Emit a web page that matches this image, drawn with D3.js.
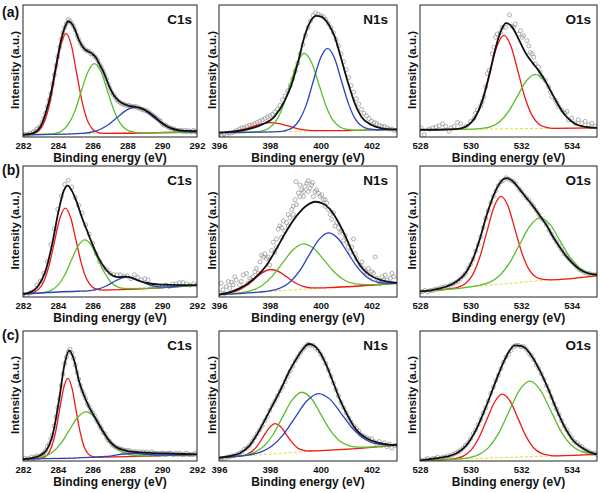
<!DOCTYPE html>
<html><head><meta charset="utf-8">
<script src="https://cdn.jsdelivr.net/npm/d3@7"></script>
<style>
body{margin:0;background:#fff}
svg{display:block}
text{font-family:"Liberation Sans",Arial,sans-serif;font-weight:bold;fill:#111}
</style></head>
<body><svg id="chart" width="600" height="493"></svg>
<script>
// ---------- axis ticks / domains ----------
const domC = [282, 292], domN = [396, 403], domO = [528, 535];
const ticksC = [282, 284, 286, 288, 290, 292];
const ticksN = [396, 398, 400, 402];
const ticksO = [528, 530, 532, 534];
const panelLetters = ["(a)", "(b)", "(c)"];
const coreTitles = ["C1s", "N1s", "O1s"];

// ---------- (a) C1s ----------
const aC1sPts = [1,2,1,2,3,2,4,4,6,7, 8,11,14,18,23,28,33,40,47,54, 61,68,74,79,83,86,89,88,86,84,
 81,77,74,71,69,67,66,65,65,63, 63,61,60,58,55,53,50,47,44,40, 37,34,32,30,28,27,26,25,25,24,
 24,24,23,23,23,23,22,22,21,21, 20,20,19,18,17,16,15,14,13,12, 10,9,9,8,7,7,6,6,5,5, 5,5,4,5,4,5,4,4,5,4, 4];
const aC1sEnv = [[282,1.8],[282.5,2.6],[283,7.7],[283.3,18],[283.6,33],[283.9,54],[284.2,74],[284.45,84.6],[284.6,87.7],[284.8,86],[285,81],[285.2,74],[285.4,69],[285.6,66],[285.8,64.6],[286,62.8],[286.2,60],[286.4,55],[286.6,50],[286.8,43.6],[287,37],[287.2,32],[287.5,27.4],[287.8,25],[288.1,23.6],[288.4,23],[288.7,22],[289,20.5],[289.3,18],[289.6,15],[289.9,11.5],[290.2,8.7],[290.5,6.7],[291,5],[291.5,4.6],[292,4.4]];
const aC1sRed = [[282,1.8],[282.34,1.9],[282.64,2.8],[282.95,5.3],[283.25,12.3],[283.56,26.8],[283.86,48.3],[284.17,69.2],[284.47,78.3],[284.78,69.4],[285.08,48.5],[285.39,27.2],[285.69,12.8],[286.0,5.9],[286.3,3.5],[286.6,2.8],[292,3.8]];
const aC1sGreen = [[282,1.8],[283.48,2.1],[283.85,2.8],[284.23,4.6],[284.6,9.5],[284.98,19.6],[285.35,34.7],[285.73,49.3],[286.1,55.6],[286.48,49.4],[286.85,35],[287.23,20.1],[287.6,10.1],[287.98,5.3],[288.35,3.7],[288.73,3.2],[292,3.8]];
const aC1sBlue = [[282,1.8],[284.78,2.4],[285.3,2.7],[285.83,3.4],[286.35,5.3],[286.88,9.1],[287.4,14.7],[287.93,20.2],[288.45,22.6],[288.98,20.4],[289.5,15.1],[290.03,9.7],[290.55,6.1],[291.08,4.5],[291.6,3.9],[292,3.9]];
const aC1sBase = [[282,1.8],[292,3.8]];

// ---------- (a) N1s ----------
const aN1sPts = [2,1,2,1,3,3,4,5,6,7, 7,8,9,9,10,11,12,13,14,15, 16,17,19,21,24,28,31,35,39,44,
 50,56,63,70,77,83,88,92,94,93, 92,91,89,86,83,79,74,69,63,57, 51,45,39,34,29,25,21,18,16,14, 12,11,10,9,8,8,7,6,6,5, 5];
const aN1sEnv = [[396,3.3],[396.5,4],[397,5.3],[397.65,9.1],[398.18,15.4],[398.57,27],[398.84,39],[399.1,56],[399.36,76],[399.63,88.6],[399.83,91.7],[400.02,91.2],[400.29,86],[400.55,76],[400.82,58.3],[401.08,40.7],[401.34,25.5],[401.6,15.4],[402,9.1],[402.4,6.6],[403,5.6]];
const aN1sRed = [[396,3.4],[396.32,3.7],[396.66,4.5],[397.0,5.9],[397.34,8.0],[397.68,10.0],[398.02,10.9],[398.36,10.2],[398.7,8.4],[399.04,6.6],[399.38,5.4],[399.72,4.9],[400.06,4.8],[400.4,4.8],[403,5.75]];
const aN1sGreen = [[396,3.3],[397.4,3.8],[397.68,4.5],[397.96,6.6],[398.24,12.0],[398.52,23.3],[398.8,40.0],[399.08,56.3],[399.36,63.4],[399.64,56.5],[399.92,40.4],[400.2,23.9],[400.48,12.8],[400.76,7.6],[401.04,5.7],[401.32,5.1],[403,5.75]];
const aN1sBlue = [[396,3.3],[398.34,4.1],[398.61,4.9],[398.89,7.0],[399.16,12.8],[399.44,24.7],[399.71,42.4],[399.99,59.6],[400.26,67.1],[400.54,59.8],[400.81,42.8],[401.09,25.3],[401.36,13.6],[401.64,8.0],[401.91,6.1],[402.19,5.5],[403,5.75]];
const aN1sBase = [[396,3.3],[403,5.75]];

// ---------- (a) O1s ----------
const aO1sPts = [[528.04,6.8],[528.17,1.8],[528.37,6],[528.5,6.8],[528.63,7.5],[528.76,8.5],[528.89,10],[529.02,8],[529.15,4.3],[529.22,6.8],[529.35,8],[529.48,11],[529.61,10],[529.81,8],[530.0,11.8],[530.14,14.3],[530.2,18],[530.27,20.5],[530.4,23.5],[530.46,26.8],[530.53,30.5],[530.6,38],[530.66,48],[530.73,50.5],[530.86,63],[530.92,68],[530.99,75.5],[531.05,78],[531.18,79],[531.25,83],[531.38,83],[531.54,92.5],[531.64,84],[531.71,83],[531.77,85.5],[531.9,78],[531.97,80.5],[532.04,75.5],[532.1,76.8],[532.23,73],[532.3,69],[532.36,64],[532.43,63],[532.5,60.5],[532.56,55.5],[532.69,53],[532.76,49],[532.82,45.5],[532.95,43],[533.09,38],[533.15,34],[533.22,30.5],[533.35,28],[533.42,25.5],[533.48,23],[533.61,20.5],[533.74,18],[533.81,19.3],[533.87,13],[534.0,14.3],[534.13,10.5],[534.26,13],[534.4,10.5],[534.53,11.8],[534.66,9.3],[534.79,10.5],[534.92,8]];
const aO1sEnv = [[528,5.5],[529,5.7],[529.5,6.1],[529.8,7.7],[530.2,15.5],[530.46,27],[530.73,46],[530.99,67.5],[531.25,82.5],[531.4,86.2],[531.64,83.4],[531.9,74.1],[532.17,63.8],[532.43,56.7],[532.69,50.3],[532.95,42.7],[533.22,33],[533.48,23.9],[533.74,16.5],[534.13,10.1],[534.53,7.7],[535,6.9]];
const aO1sRed = [[528,5.5],[529.36,5.8],[529.64,6.6],[529.92,9.0],[530.2,15.5],[530.48,29.0],[530.76,49.0],[531.04,68.5],[531.32,77.0],[531.6,68.6],[531.88,49.3],[532.16,29.3],[532.44,16.0],[532.72,9.5],[533.0,7.3],[533.28,6.6],[535,6.9]];
const aO1sGreen = [[528,5.5],[530.11,5.9],[530.46,6.5],[530.81,7.9],[531.16,11.7],[531.51,19.6],[531.86,31.2],[532.21,42.6],[532.56,47.5],[532.91,42.8],[533.26,31.5],[533.61,20.0],[533.96,12.2],[534.31,8.6],[534.66,7.3],[535,6.95]];
const aO1sBase = [[528,5.5],[535,6.9]];

// ---------- (b) C1s ----------
const bC1sPts = [2,1,3,4,9, 12,18,27,40,52, 67,77,86,89,84, 76,70,64,55,48, 41,33,27,23,21, 18,17,17,17,16,
 16,14,17,15,13, 14,13,9,9,8, 8,9,8,10,10, 11,11,10,9,10, 9];
const bC1sEnv = [[282,2.3],[282.53,4.3],[282.9,9],[283.3,20],[283.67,40],[284.05,66],[284.34,81],[284.57,85],[284.81,81],[285.1,72],[285.38,61],[285.67,51],[285.95,41.5],[286.33,30],[286.71,22],[287.1,16.8],[287.48,15.2],[287.86,15.6],[288.24,14.6],[288.6,12.6],[289.2,10.5],[289.75,9.6],[290.5,9.3],[291.2,9.1],[292,9.1]];
const bC1sRed = [[282,2.3],[282.26,2.5],[282.57,3.4],[282.88,5.7],[283.19,11.7],[283.5,24.1],[283.81,42.3],[284.12,60.1],[284.43,67.9],[284.74,60.5],[285.05,43.1],[285.36,25.3],[285.67,13.3],[285.98,7.7],[286.29,5.8],[286.6,5.3],[292,8.8]];
const bC1sGreen = [[282,2.3],[282.85,2.9],[283.23,3.5],[283.62,5.1],[284.0,8.9],[284.39,16.6],[284.77,27.8],[285.16,38.8],[285.54,43.6],[285.93,39.3],[286.31,28.8],[286.7,18.1],[287.08,10.9],[287.47,7.6],[287.85,6.5],[288.24,6.4],[292,8.8]];
const bC1sBlue = [[282,2.3],[285.15,4.4],[285.55,4.5],[285.95,5.1],[286.35,6.2],[286.75,8.2],[287.15,11.1],[287.55,13.9],[287.95,15.3],[288.35,14.4],[288.75,12.1],[289.15,9.8],[289.55,8.3],[289.95,7.7],[290.35,7.6],[290.75,8.0],[292,8.8]];
const bC1sBase = [[282,2.3],[292,8.8]];

// ---------- (b) N1s ----------
const bN1sPts = [[396.02,3],[396.09,10.5],[396.16,5.5],[396.22,2.5],[396.29,8],[396.36,11.8],[396.42,6.8],[396.49,11.3],[396.55,9.3],[396.62,15.5],[396.68,13],[396.82,9.3],[396.88,11.8],[396.95,16.8],[397.08,18],[397.14,10.5],[397.21,14.3],[397.28,13],[397.34,15.5],[397.41,19.3],[397.47,21.8],[397.54,18],[397.61,26.8],[397.67,31.8],[397.74,30.5],[397.8,33],[397.87,29.3],[397.93,30.5],[398.0,24.3],[398.07,35.5],[398.13,41.8],[398.2,34.3],[398.26,44.3],[398.26,38],[398.33,51.8],[398.39,54.3],[398.46,53],[398.46,45.5],[398.53,58],[398.59,50.5],[398.66,56.8],[398.72,63],[398.72,54.3],[398.79,60.5],[398.86,66.8],[398.92,69.3],[398.92,63],[398.99,74.3],[399.03,88],[399.05,70.5],[399.12,79.3],[399.18,76.8],[399.18,85.5],[399.25,81.8],[399.32,80.5],[399.32,76.8],[399.38,84.3],[399.45,86.8],[399.51,80.5],[399.51,88.8],[399.58,83],[399.64,85.5],[399.68,87.3],[399.71,76.8],[399.78,80.5],[399.84,81.8],[399.91,79.3],[399.97,76.8],[400.04,78],[400.1,74.3],[400.17,69.3],[400.17,74.3],[400.24,71.8],[400.3,66.8],[400.37,63],[400.43,59.3],[400.5,64.3],[400.57,54.3],[400.63,56.8],[400.7,53],[400.76,49.3],[400.83,50.5],[400.89,43],[400.96,46.8],[401.03,41.8],[401.09,38],[401.16,34.3],[401.22,38],[401.29,44.3],[401.36,33],[401.42,29.3],[401.55,24.3],[401.62,26.8],[401.68,21.8],[401.75,19.3],[401.82,18],[401.88,21.8],[401.95,15.5],[402.01,19.3],[402.08,18],[402.14,30.5],[402.21,14.3],[402.28,11.8],[402.34,10.5],[402.41,15.5],[402.47,13],[402.54,16.8],[402.61,13],[402.74,14.3],[402.8,18],[402.87,15.5]];
const bN1sEnv = [[396,1.8],[396.55,4.5],[397.08,9.6],[397.47,15.5],[397.87,24.3],[398.26,36.8],[398.66,50.6],[399.05,61.9],[399.45,69.9],[399.78,72.7],[400.1,71.2],[400.37,66.9],[400.63,59.4],[400.9,49.4],[401.16,38.1],[401.42,28],[401.68,21],[401.95,16.5],[402.34,13],[402.74,11.3],[403,10.8]];
const bN1sRed = [[396,1.8],[396.11,2.1],[396.43,3.1],[396.75,5.0],[397.07,8.6],[397.39,13.6],[397.71,18.6],[398.03,21.0],[398.35,19.4],[398.67,15.2],[398.99,10.9],[399.31,8.2],[399.63,7.0],[399.95,6.9],[400.27,7.1],[403,10.5]];
const bN1sGreen = [[396,1.8],[396.45,2.4],[396.86,3.3],[397.27,4.9],[397.68,8.6],[398.09,15.7],[398.5,26.0],[398.91,36.0],[399.32,40.6],[399.73,37.0],[400.14,28.0],[400.55,18.7],[400.96,12.6],[401.37,10.0],[401.78,9.4],[402.19,9.5],[403,10.5]];
const bN1sBlue = [[396,1.8],[397.6,3.8],[397.99,4.7],[398.38,6.6],[398.76,10.9],[399.15,19.3],[399.53,31.6],[399.92,43.6],[400.3,48.9],[400.69,44.5],[401.07,33.5],[401.46,22.2],[401.84,14.7],[402.23,11.4],[402.61,10.5],[403,10.6]];
const bN1sBase = [[396,1.8],[403,10.5]];

// ---------- (b) O1s ----------
const bO1sPts = [4,4,5,4,5,5,6,6,7,7, 8,8,9,10,11,12,14,16,18,22, 25,29,35,40,46,53,60,66,72,77,
 81,85,88,89,91,90,89,88,86,83, 81,78,76,74,71,69,66,63,60,58, 55,51,48,45,42,39,36,33,31,29, 27,25,23,21,20,19,18,18,17,17, 17];
const bO1sEnv = [[528,4.3],[528.53,5.5],[529.05,8],[529.45,11.8],[529.84,19.3],[530.1,29.3],[530.37,44.4],[530.63,62],[530.9,77],[531.16,87],[531.42,90.7],[531.68,88.2],[531.95,82],[532.21,75.7],[532.47,69.4],[532.74,62],[533,55],[533.26,46],[533.53,38],[533.79,31],[534.05,25.5],[534.32,21],[534.58,18.5],[535,17]];
const bO1sRed = [[528,4.3],[529.24,6.4],[529.52,7.6],[529.8,10.3],[530.08,16.9],[530.36,30.1],[530.64,49.5],[530.92,68.4],[531.2,76.8],[531.48,69.4],[531.76,51.4],[532.04,33.0],[532.32,20.7],[532.6,15.1],[532.88,13.4],[533.16,13.1],[535,16.3]];
const bO1sGreen = [[528,4.3],[529.94,7.6],[530.34,8.8],[530.74,11.1],[531.14,16.2],[531.54,26.0],[531.94,40.1],[532.34,54.0],[532.74,60.4],[533.14,55.4],[533.54,42.9],[533.94,30.1],[534.34,21.6],[534.74,17.9],[535,17.2]];
const bO1sBase = [[528,4.3],[535,16.3]];

// ---------- (c) C1s ----------
const cC1sPts = [1,2,1,2,1,3,2,3,4,3, 4,5,6,8,11,13,17,20,27,34, 41,48,58,67,75,80,84,86,83,79,
 74,68,63,58,54,51,48,44,42,39, 37,35,32,30,27,25,22,21,18,16, 15,13,12,11,10,10,9,9,8,8,
 8,8,7,7,7,7,6,7,6,7, 6,7,6,6,7,6,6,6,5,6, 6,6,5,6,6,6,5,5,6,5, 6,5,5,5,6,5,5,5,5,6, 5];
const cC1sEnv = [[282,1.5],[282.57,2.4],[282.95,4],[283.33,8],[283.71,20.5],[284.09,48.3],[284.38,73.9],[284.66,85],[284.95,77],[285.23,61],[285.52,50],[285.8,41.5],[286.18,32.5],[286.56,23.5],[286.94,15.7],[287.32,11],[287.89,8],[288.65,6.6],[289.41,6.1],[290.18,5.8],[291.13,5.4],[292,5.1]];
const cC1sRed = [[282,1.5],[282.93,1.8],[283.16,2.6],[283.4,4.7],[283.63,10.4],[283.87,22.1],[284.1,39.4],[284.34,56.3],[284.57,63.6],[284.81,56.5],[285.04,39.7],[285.28,22.6],[285.51,11.0],[285.75,5.5],[285.98,3.6],[286.22,3.0],[292,5.1]];
const cC1sGreen = [[282,1.5],[282.28,1.6],[282.76,2.2],[283.24,3.5],[283.71,6.9],[284.19,13.7],[284.66,23.7],[285.14,33.5],[285.61,37.8],[286.09,33.9],[286.56,24.3],[287.04,14.7],[287.51,8.2],[287.99,5.2],[288.46,4.2],[288.94,4.0],[292,5.1]];
const cC1sBlue = [[282,1.5],[286.2,3.0],[286.6,3.4],[287,3.8],[287.4,4.7],[287.8,5.4],[288.2,5.7],[288.6,5.6],[289,5.2],[289.4,4.8],[289.8,4.6],[290.6,4.6],[292,5.1]];
const cC1sBase = [[282,1.5],[292,5.1]];

// ---------- (c) N1s ----------
const cN1sPts = [1,2,2,3,3,4,4,5,6,7, 9,10,12,15,18,21,24,27,31,34, 39,43,46,50,54,57,61,65,69,73,
 77,80,83,86,88,90,89,89,87,85, 82,79,75,70,65,60,55,50,45,41, 37,33,30,27,25,23,20,19,18,17, 17,15,13,15,12,14,11,13,10,12, 12];
const cN1sEnv = [[396,2.5],[396.42,3.8],[396.82,6],[397.21,12],[397.6,24],[398,39],[398.39,53.5],[398.79,70],[399.12,81],[399.38,88],[399.51,90],[399.71,89],[399.97,83.5],[400.24,73],[400.5,60],[400.76,47],[401.03,36],[401.29,27],[401.55,21],[401.82,17.3],[402.21,14.3],[402.61,12.8],[403,12.2]];
const cN1sRed = [[396,2.5],[396.63,3.4],[396.85,3.9],[397.08,5.0],[397.3,7.4],[397.53,12.2],[397.75,19.0],[397.98,25.7],[398.2,28.8],[398.43,26.4],[398.65,20.3],[398.88,14.1],[399.1,9.9],[399.33,8.2],[399.55,7.7],[399.78,7.8],[403,12.2]];
const cN1sGreen = [[396,2.5],[396.63,3.4],[397.0,4.4],[397.38,6.4],[397.75,11.1],[398.13,20.4],[398.5,33.9],[398.88,47.0],[399.25,52.9],[399.63,48.1],[400.0,36.0],[400.38,23.5],[400.75,15.3],[401.13,11.6],[401.5,10.6],[401.88,10.7],[403,12.2]];
const cN1sBlue = [[396,2.5],[396.69,3.5],[397.15,4.6],[397.61,6.7],[398.07,11.3],[398.53,20.3],[398.99,33.4],[399.45,46.1],[399.91,51.9],[400.37,47.4],[400.83,35.9],[401.29,24.2],[401.75,16.5],[402.21,13.1],[402.67,12.3],[403,12.3]];
const cN1sBase = [[396,2.5],[403,12.2]];

// ---------- (c) O1s ----------
const cO1sPts = [1,0,1,2,1,2,2,3,2,3, 3,4,4,5,6,7,8,10,12,14, 17,21,24,28,32,37,41,46,52,57,
 62,66,71,76,80,82,85,88,89,89, 88,88,86,83,81,78,74,71,67,63, 58,54,49,44,40,36,31,27,24,21, 18,15,14,12,11,9,8,7,6,6, 5];
const cO1sEnv = [[528,0.5],[528.53,1.8],[529.05,3.3],[529.45,5.9],[529.84,12.2],[530.24,24.9],[530.63,42.7],[531.03,63],[531.36,78.4],[531.75,89],[532.08,88],[532.41,81],[532.74,69.5],[533.07,55.5],[533.39,40.2],[533.72,26.2],[534.05,16],[534.45,9.7],[534.84,5.9],[535,5.3]];
const cO1sRed = [[528,0.5],[529.09,1.2],[529.4,2.0],[529.71,3.8],[530.02,8.4],[530.33,17.9],[530.64,31.8],[530.95,45.4],[531.26,51.4],[531.57,45.8],[531.88,32.6],[532.19,19.1],[532.5,10.0],[532.81,5.8],[533.12,4.4],[533.43,4.0],[535,5.05]];
const cO1sGreen = [[528,0.5],[529.47,1.5],[529.88,2.4],[530.29,4.5],[530.7,10.1],[531.11,21.4],[531.52,38.1],[531.93,54.4],[532.34,61.5],[532.75,54.9],[533.16,39.2],[533.57,23.0],[533.98,12.3],[534.39,7.2],[534.8,5.6],[535,5.3]];
const cO1sBase = [[528,0.5],[535,5.05]];

// ---------- helpers ----------
const onGrid = (x0, dx, ys) => ys.map((v, i) => [+(x0 + i * dx).toFixed(3), v]);

const specs = [
  [0, 0, domC, ticksC, onGrid(282, 0.1, aC1sPts), aC1sEnv, [aC1sRed, aC1sGreen, aC1sBlue], aC1sBase],
  [0, 1, domN, ticksN, onGrid(396, 0.1, aN1sPts), aN1sEnv, [aN1sRed, aN1sGreen, aN1sBlue], aN1sBase],
  [0, 2, domO, ticksO, aO1sPts, aO1sEnv, [aO1sRed, aO1sGreen], aO1sBase],
  [1, 0, domC, ticksC, onGrid(282, 0.2, bC1sPts), bC1sEnv, [bC1sRed, bC1sGreen, bC1sBlue], bC1sBase],
  [1, 1, domN, ticksN, bN1sPts, bN1sEnv, [bN1sRed, bN1sGreen, bN1sBlue], bN1sBase],
  [1, 2, domO, ticksO, onGrid(528, 0.1, bO1sPts), bO1sEnv, [bO1sRed, bO1sGreen], bO1sBase],
  [2, 0, domC, ticksC, onGrid(282, 0.1, cC1sPts), cC1sEnv, [cC1sRed, cC1sGreen, cC1sBlue], cC1sBase],
  [2, 1, domN, ticksN, onGrid(396, 0.1, cN1sPts), cN1sEnv, [cN1sRed, cN1sGreen, cN1sBlue], cN1sBase],
  [2, 2, domO, ticksO, onGrid(528, 0.1, cO1sPts), cO1sEnv, [cO1sRed, cO1sGreen], cO1sBase]
];

// ---------- layout ----------
const colX = [[23, 197], [219, 397], [420, 597]];
const rowY = [[5, 137], [166, 297], [331, 461]];
const titleInset = [5, 9, 6];
const ylabX = [18.5, 215.5, 416];
const letterY = [17, 175, 340];
const compColors = ["#f01818", "#5cbc2c", "#2a42c4"];

const svg = d3.select("#chart");
const defs = svg.append("defs");

specs.forEach((s, i) => {
  const [r, c, dom, ticks, pts, env, comps, base] = s;
  const [x0, x1] = colX[c], [y0, y1] = rowY[r];
  const x = d3.scaleLinear().domain(dom).range([x0, x1]);
  const y = d3.scaleLinear().domain([0, 100]).range([y1, y0]);
  const line = d3.line().x(d => x(d[0])).y(d => y(d[1])).curve(d3.curveMonotoneX);

  defs.append("clipPath").attr("id", "clip" + i)
    .append("rect").attr("x", x0).attr("y", y0).attr("width", x1 - x0).attr("height", y1 - y0);

  const g = svg.append("g");
  const pg = g.append("g").attr("clip-path", `url(#clip${i})`);

  pg.selectAll("circle").data(pts).join("circle")
    .attr("cx", d => x(d[0])).attr("cy", d => y(d[1])).attr("r", 2)
    .attr("fill", "none").attr("stroke", "#8e8e8e").attr("stroke-width", 0.7);

  pg.append("path").datum(base).attr("d", line).attr("fill", "none")
    .attr("stroke", "#e8dc30").attr("stroke-width", 1).attr("stroke-dasharray", "3,2");

  comps.forEach((cd, k) => {
    pg.append("path").datum(cd).attr("d", line).attr("fill", "none")
      .attr("stroke", compColors[k]).attr("stroke-width", 1.3);
  });

  pg.append("path").datum(env).attr("d", line).attr("fill", "none")
    .attr("stroke", "#111").attr("stroke-width", 1.8);

  g.append("rect").attr("x", x0).attr("y", y0).attr("width", x1 - x0).attr("height", y1 - y0)
    .attr("fill", "none").attr("stroke", "#222").attr("stroke-width", 1);

  const ax = g.append("g").attr("transform", `translate(0,${y1})`)
    .call(d3.axisBottom(x).tickValues(ticks).tickSize(0).tickPadding(4.8).tickFormat(d3.format("d")));
  ax.select(".domain").remove();
  ax.selectAll("text").style("font-size", "9.5px").style("font-weight", "bold")
    .style("font-family", '"Liberation Sans", Arial, sans-serif').attr("fill", "#111");

  g.append("text").attr("x", x1 - titleInset[c]).attr("y", y0 + 19)
    .attr("text-anchor", "end").style("font-size", "13.5px").text(coreTitles[c]);

  g.append("text").attr("transform", `translate(${ylabX[c]},${(y0 + y1) / 2 - 1}) rotate(-90)`)
    .attr("text-anchor", "middle").style("font-size", "11.5px").text("Intensity (a.u.)");

  g.append("text").attr("x", (x0 + x1) / 2).attr("y", y1 + 24.5)
    .attr("text-anchor", "middle").style("font-size", "12px").text("Binding energy (eV)");

  if (c === 0) {
    g.append("text").attr("x", 2).attr("y", letterY[r])
      .style("font-size", "14px").text(panelLetters[r]);
  }
});
</script>
</body></html>
